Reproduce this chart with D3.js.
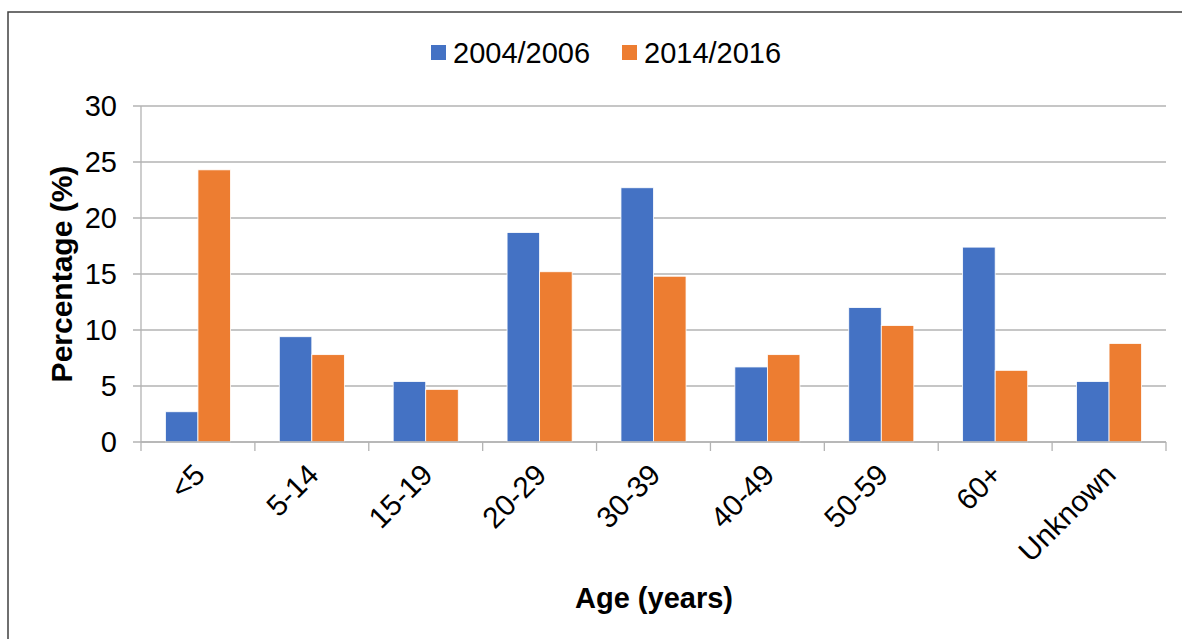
<!DOCTYPE html>
<html><head><meta charset="utf-8">
<script src="https://cdn.jsdelivr.net/npm/d3@7"></script>
<style>body{margin:0;background:#fff}svg{display:block}text{font-family:"Liberation Sans",Arial,sans-serif}</style>
</head><body>
<svg id="c" width="1182" height="639"></svg>
<script>
const categories = ["<5","5-14","15-19","20-29","30-39","40-49","50-59","60+","Unknown"];
const seriesNames = ["2004/2006","2014/2016"];
const series2004 = [2.7, 9.4, 5.4, 18.7, 22.7, 6.7, 12.0, 17.4, 5.4];
const series2014 = [24.3, 7.8, 4.7, 15.2, 14.8, 7.8, 10.4, 6.4, 8.8];
const yTicks = [0,5,10,15,20,25,30];
const colors = ["#4472C4","#ED7D31"];

const svg = d3.select("#c");
svg.append("rect").attr("x",8).attr("y",12).attr("width",1200).attr("height",700)
  .attr("fill","none").attr("stroke","#404040").attr("stroke-width",1.5);

const L=141, R=1166, T=106, B=442;
const x = d3.scaleBand().domain(categories).range([L,R]).paddingInner(0).paddingOuter(0);
const inner = d3.scaleBand().domain(seriesNames).range([0,x.bandwidth()]).paddingInner(0).paddingOuter(0.75);
const y = d3.scaleLinear().domain([0,30]).range([B,T]);

// gridlines
const g = svg.append("g");
g.selectAll("line.grid").data(yTicks).join("line")
  .attr("x1",L-8).attr("x2",R).attr("y1",d=>y(d)).attr("y2",d=>y(d))
  .attr("stroke","#b3b3b3").attr("stroke-width",1.3);
// y labels
g.selectAll("text.yl").data(yTicks).join("text")
  .attr("x",L-24).attr("y",d=>y(d)).attr("dy","0.35em").attr("text-anchor","end")
  .attr("font-size",29).attr("fill","#000").text(d=>d);

// bars
const data = categories.map((c,i)=>({c, vals:[series2004[i],series2014[i]]}));
const grp = svg.append("g").selectAll("g").data(data).join("g")
  .attr("transform",d=>`translate(${x(d.c)},0)`);
grp.selectAll("rect").data(d=>d.vals.map((v,j)=>({v,s:seriesNames[j],j}))).join("rect")
  .attr("x",d=>inner(d.s)).attr("width",inner.bandwidth())
  .attr("y",d=>y(d.v)).attr("height",d=>B-y(d.v))
  .attr("fill",d=>colors[d.j]).attr("stroke","#fff").attr("stroke-width",0.8);

// axes lines
svg.append("line").attr("x1",L).attr("x2",L).attr("y1",T).attr("y2",B).attr("stroke","#b3b3b3").attr("stroke-width",1.3);
svg.append("line").attr("x1",L).attr("x2",R).attr("y1",B).attr("y2",B).attr("stroke","#b3b3b3").attr("stroke-width",1.5);
const bounds = categories.map(c=>x(c)).concat([R]);
svg.selectAll("line.xt").data(bounds).join("line")
  .attr("x1",d=>d).attr("x2",d=>d).attr("y1",B).attr("y2",B+9)
  .attr("stroke","#b3b3b3").attr("stroke-width",1.3);

// x labels
svg.append("g").selectAll("text").data(categories).join("text")
  .attr("transform",d=>`translate(${x(d)+x.bandwidth()/2-6},${B+20}) rotate(-45)`)
  .attr("text-anchor","end").attr("dy","0.7em").attr("font-size",29.5).attr("fill","#000").text(d=>d);

// axis titles
svg.append("text").attr("transform",`translate(72,${(T+B)/2}) rotate(-90)`)
  .attr("text-anchor","middle").attr("font-size",30).attr("font-weight","bold").text("Percentage (%)");
svg.append("text").attr("x",654).attr("y",608).attr("text-anchor","middle")
  .attr("font-size",29).attr("font-weight","bold").text("Age (years)");

// legend
const legX=[431,622];
const lg = svg.append("g").selectAll("g").data(seriesNames).join("g")
  .attr("transform",(d,i)=>`translate(${legX[i]},45)`);
lg.append("rect").attr("width",15).attr("height",15).attr("fill",(d,i)=>colors[i]);
lg.append("text").attr("x",22).attr("y",17.5).attr("font-size",29).text(d=>d);
</script>
</body></html>
